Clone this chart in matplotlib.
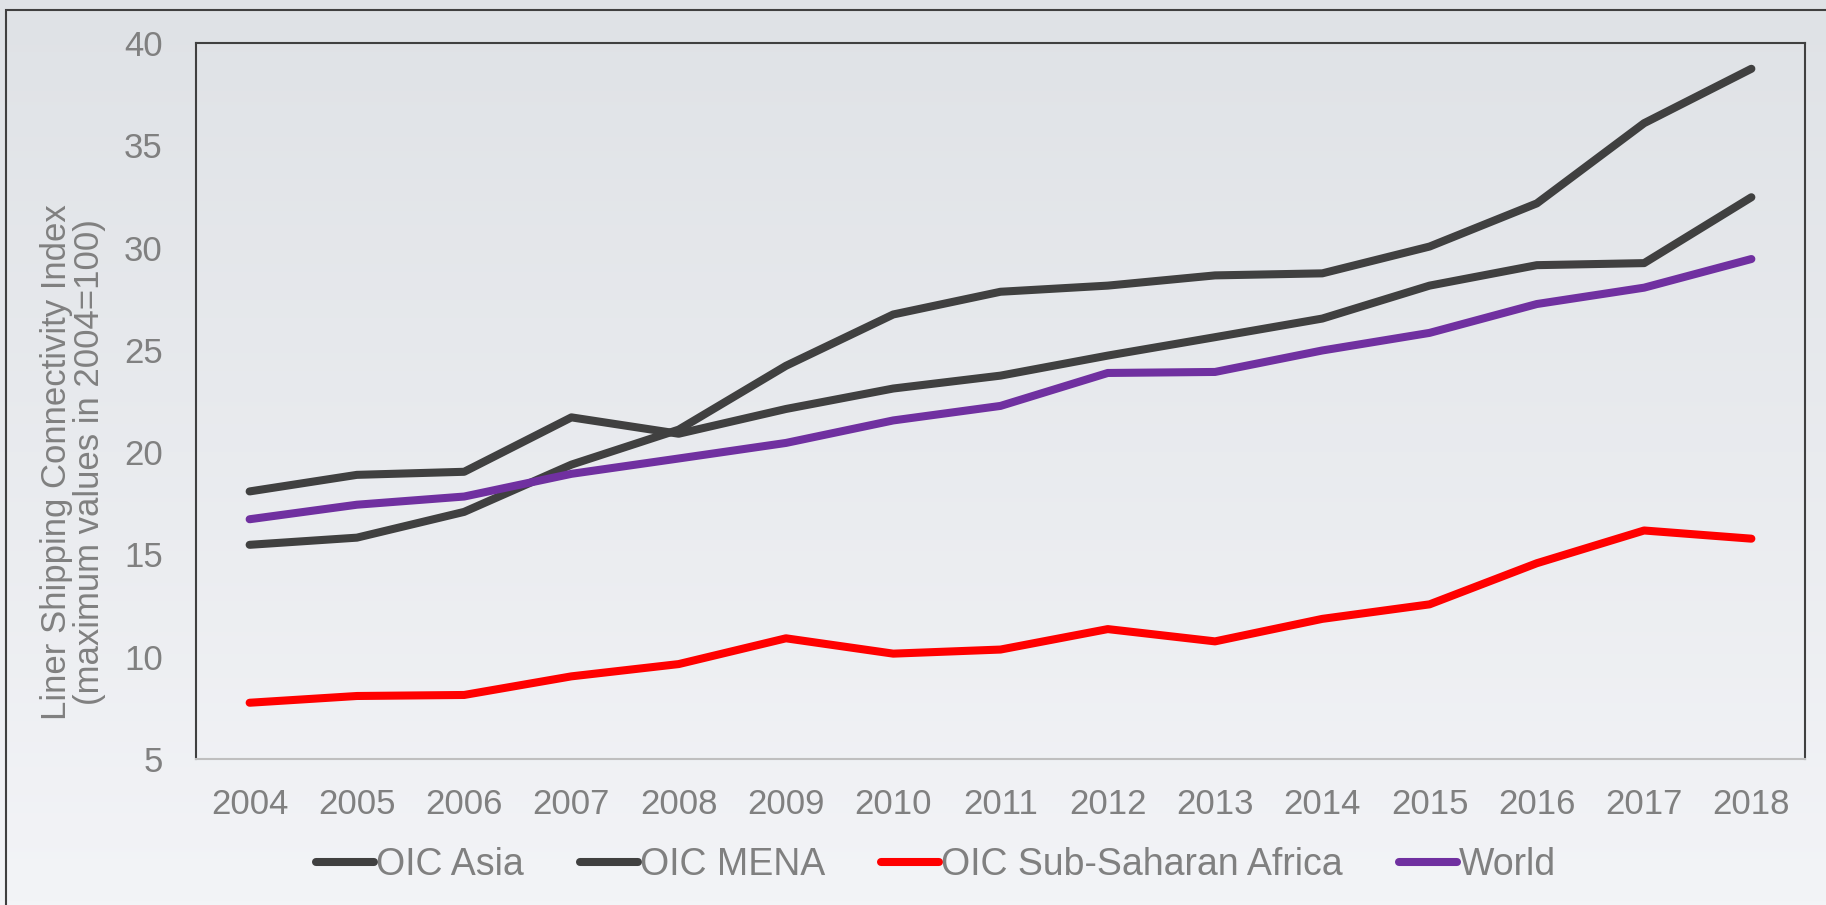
import numpy as np
import matplotlib
matplotlib.use("Agg")
import matplotlib.pyplot as plt
from matplotlib.patches import Rectangle

plt.rcParams['font.family'] = ['Liberation Sans', 'DejaVu Sans']

years = [str(y) for y in range(2004, 2019)]
oic_asia = [15.47, 15.82, 17.08, 19.39, 21.1, 24.22, 26.73, 27.84, 28.14, 28.64, 28.74, 30.05, 32.16, 36.08, 38.74]
oic_mena = [18.08, 18.89, 19.04, 21.7, 20.9, 22.11, 23.11, 23.74, 24.72, 25.62, 26.53, 28.14, 29.14, 29.24, 32.46]
oic_ssa = [7.75, 8.08, 8.13, 9.04, 9.64, 10.9, 10.15, 10.35, 11.35, 10.75, 11.85, 12.56, 14.57, 16.17, 15.77]
world = [16.72, 17.43, 17.83, 18.94, 19.69, 20.45, 21.55, 22.26, 23.87, 23.92, 24.97, 25.83, 27.24, 28.04, 29.44]

W, H = 1826, 905
fig = plt.figure(figsize=(W / 100, H / 100), dpi=100)

# background gradient
bg = fig.add_axes([0, 0, 1, 1], zorder=-10)
grad = np.linspace(0, 1, 256).reshape(-1, 1)
top = np.array([0xdf, 0xe2, 0xe6]) / 255
bot = np.array([0xf3, 0xf4, 0xf7]) / 255
img = top + (bot - top) * grad[:, :, None]
bg.imshow(img, aspect='auto', extent=[0, 1, 0, 1], origin='upper')
bg.axis('off')

# outer frame
fig.patches.append(Rectangle((6 / W, -0.05), 1.1, 1 - 10 / H + 0.05, transform=fig.transFigure,
                             fill=False, edgecolor='#404040', lw=1.5))

ax = fig.add_axes([196 / W, 1 - 759 / H, (1805 - 196) / W, (759 - 43) / H])
ax.patch.set_alpha(0)

x = np.arange(len(years))
lw = 5.8
ax.plot(x, oic_asia, color='#404040', lw=lw, solid_capstyle='round', label='OIC Asia')
ax.plot(x, oic_mena, color='#404040', lw=lw, solid_capstyle='round', label='OIC MENA')
ax.plot(x, oic_ssa, color='#ff0000', lw=lw, solid_capstyle='round', label='OIC Sub-Saharan Africa')
ax.plot(x, world, color='#7030a0', lw=lw, solid_capstyle='round', label='World')

ax.set_xlim(-0.5, len(years) - 0.5)
ax.set_ylim(5, 40)
ax.set_yticks(range(5, 41, 5))
ax.set_xticks(x)
ax.set_xticklabels(years)
ax.tick_params(axis='both', length=0, labelsize=25, labelcolor='#808080')
ax.tick_params(axis='y', pad=24)
ax.tick_params(axis='x', pad=21)

for s in ['left', 'top', 'right']:
    ax.spines[s].set_color('#404040')
    ax.spines[s].set_linewidth(1.5)
ax.spines['bottom'].set_color('#bfbfbf')
ax.spines['bottom'].set_linewidth(1.5)

fig.text(73 / W, 1 - 462 / H, 'Liner Shipping Connectivity Index\n(maximum values in 2004=100)',
         rotation=90, ha='center', va='center', fontsize=25, color='#808080', linespacing=1.0)

fig.legend(loc='center', bbox_to_anchor=(936 / W, 1 - 865 / H), ncol=4, frameon=False,
           fontsize=27, labelcolor='#808080', handlelength=1.55, handletextpad=0.05,
           columnspacing=1.5)

fig.savefig('out.png', dpi=100)
